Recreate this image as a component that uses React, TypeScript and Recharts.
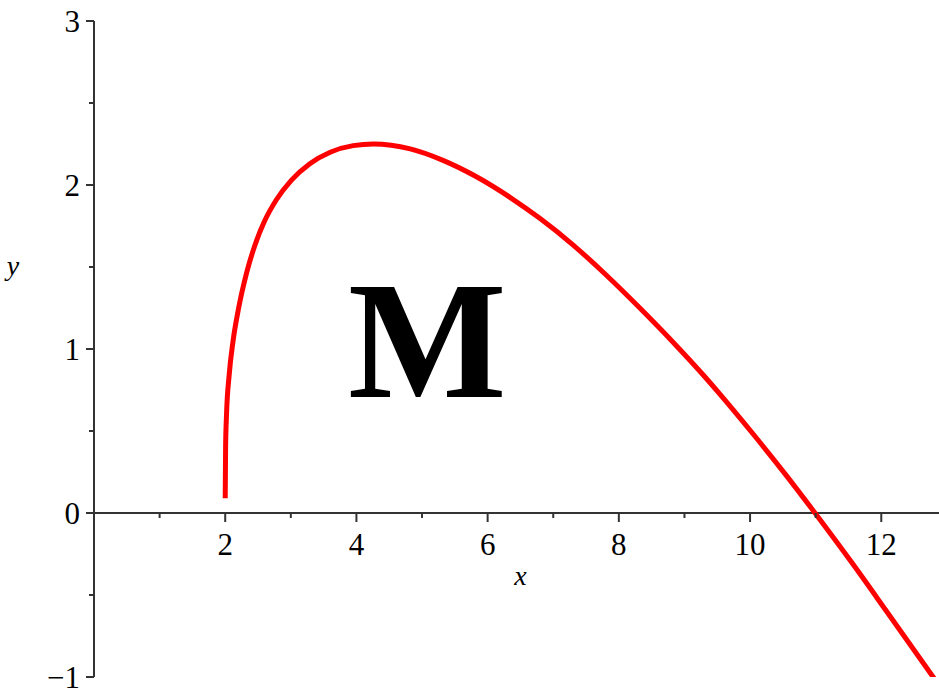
import React from "react";
import { LineChart, Line, XAxis, YAxis, ReferenceLine, ReferenceDot } from "recharts";

// curve samples (x, y)
const curveX = [2.0, 2.006, 2.02, 2.06, 2.12, 2.2, 2.33, 2.45, 2.6, 2.78, 3.01, 3.29, 3.6, 3.95, 4.26, 4.82, 5.32, 5.83, 6.34, 6.8, 7.3, 7.81, 8.32, 8.83, 9.29, 9.54, 10.05, 10.56, 10.99, 11.57, 12.08, 12.79, 12.88];
const curveY = [0.09, 0.4, 0.6, 0.84, 1.05, 1.24, 1.47, 1.63, 1.78, 1.91, 2.03, 2.13, 2.2, 2.24, 2.25, 2.22, 2.15, 2.05, 1.925, 1.795, 1.635, 1.45, 1.25, 1.04, 0.84, 0.725, 0.48, 0.225, 0.0, -0.313, -0.599, -1.0, -1.05];

const xMajorTicks = [2, 4, 6, 8, 10, 12];
const xMinorTicks = [1, 3, 5, 7, 9, 11];
const yMajorTicks = [-1, 0, 1, 2, 3];
const yMinorTicks = [-0.5, 0.5, 1.5, 2.5];

const X_DOMAIN: [number, number] = [0, 12.88];
const Y_DOMAIN: [number, number] = [-1, 3];

const bigLetter = { text: "M", x: 5.08, y: 0.71 };

const AXIS = "#333333";
const FONT = "'Liberation Serif', 'Times New Roman', serif";
const TICK_FONT = 31;

const data = curveX.map((x, i) => ({ x, y: curveY[i] }));

const fmtY = (v: number) => (v < 0 ? "\u2212" + Math.abs(v) : String(v));

export default function App() {
  return (
    <div style={{ position: "absolute", left: 0, top: 0, width: 939, height: 688, background: "#fff" }}>
      <LineChart width={939} height={688} data={data} margin={{ top: 21, right: 0, bottom: 11, left: 0 }} style={{ fontFamily: FONT }}>
        <XAxis dataKey="x" type="number" domain={X_DOMAIN} allowDataOverflow hide />
        <YAxis
          type="number"
          domain={Y_DOMAIN}
          ticks={yMajorTicks}
          interval={0}
          allowDataOverflow
          width={94}
          tickSize={8}
          tickMargin={6}
          tickLine={false}
          axisLine={{ stroke: AXIS, strokeWidth: 2 }}
          tick={{ fill: "#000", fontSize: TICK_FONT, fontFamily: FONT }}
          tickFormatter={fmtY}
        />
        {/* x axis drawn through y = 0 */}
        <ReferenceLine y={0} stroke={AXIS} strokeWidth={2} />

        {xMajorTicks.map(t => (
          <ReferenceDot key={"xM" + t} x={t} y={0} r={0} shape={(p: any) => (
            <g>
              <line x1={p.cx} y1={p.cy} x2={p.cx} y2={p.cy + 9} stroke={AXIS} strokeWidth={2} />
              <text x={p.cx} y={p.cy + 42} textAnchor="middle" fontSize={TICK_FONT} fontFamily={FONT} fill="#000">{t}</text>
            </g>
          )} />
        ))}
        {xMinorTicks.map(t => (
          <ReferenceDot key={"xm" + t} x={t} y={0} r={0} shape={(p: any) => (
            <line x1={p.cx} y1={p.cy} x2={p.cx} y2={p.cy + 5} stroke={AXIS} strokeWidth={2} />
          )} />
        ))}
        {yMajorTicks.map(t => (
          <ReferenceDot key={"yM" + t} x={0} y={t} r={0} shape={(p: any) => (
            <line x1={p.cx - 8} y1={p.cy} x2={p.cx} y2={p.cy} stroke={AXIS} strokeWidth={2} />
          )} />
        ))}
        {yMinorTicks.map(t => (
          <ReferenceDot key={"ym" + t} x={0} y={t} r={0} shape={(p: any) => (
            <line x1={p.cx - 5} y1={p.cy} x2={p.cx} y2={p.cy} stroke={AXIS} strokeWidth={2} />
          )} />
        ))}

        {/* axis titles */}
        <ReferenceDot x={6.5} y={0} r={0} shape={(p: any) => (
          <text x={p.cx} y={p.cy + 72} textAnchor="middle" fontSize={28} fontStyle="italic" fontFamily={FONT} fill="#000">x</text>
        )} />
        <ReferenceDot x={0} y={1.45} r={0} ifOverflow="visible" shape={(p: any) => (
          <text x={p.cx - 81} y={p.cy} textAnchor="middle" fontSize={28} fontStyle="italic" fontFamily={FONT} fill="#000">y</text>
        )} />

        <ReferenceDot x={bigLetter.x} y={bigLetter.y} r={0} shape={(p: any) => (
          <text x={p.cx} y={p.cy} textAnchor="middle" fontSize={168} fontWeight="bold" fontFamily={FONT} fill="#000">{bigLetter.text}</text>
        )} />

        <Line type="monotone" dataKey="y" stroke="#ff0000" strokeWidth={5} dot={false} isAnimationActive={false} />
      </LineChart>
    </div>
  );
}
